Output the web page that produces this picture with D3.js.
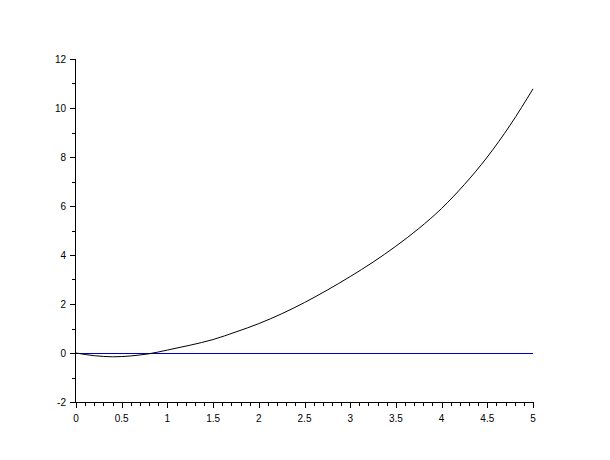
<!DOCTYPE html>
<html><head><meta charset="utf-8">
<script src="https://cdn.jsdelivr.net/npm/d3@7"></script>
<style>body{margin:0;background:#fff;} svg{display:block;} text{font-family:"Liberation Sans",Arial,sans-serif;font-size:10px;fill:#000;}</style>
</head><body>
<script>
const xValues = [0,0.1,0.2,0.3,0.4,0.5,0.6,0.7,0.8,0.9,1.0,1.25,1.5,1.75,2.0,2.25,2.5,2.75,3.0,3.25,3.5,3.75,4.0,4.25,4.5,4.75,5.0];
const yValues = [0,-0.06,-0.11,-0.14,-0.155,-0.145,-0.12,-0.08,-0.03,0.04,0.12,0.32,0.55,0.86,1.2,1.6,2.06,2.57,3.12,3.71,4.36,5.08,5.9,6.88,8.0,9.3,10.78];
const zeroLineX = [0,5];
const zeroLineY = [0,0];
const xTicks = [0,0.5,1,1.5,2,2.5,3,3.5,4,4.5,5];
const yTicks = [-2,0,2,4,6,8,10,12];

const W=610,H=460;
const svg=d3.select("body").append("svg").attr("width",W).attr("height",H);
const x=d3.scaleLinear().domain([0,5]).range([76,533]);
const y=d3.scaleLinear().domain([-2,12]).range([402,59]);

// x axis
const xMinor=d3.range(0,5.0001,0.1).map(v=>+v.toFixed(2));
const gx=svg.append("g");
gx.append("line").attr("x1",x(0)).attr("x2",x(5)).attr("y1",y(-2)+0.5).attr("y2",y(-2)+0.5).attr("stroke","#000");
gx.selectAll("line.mn").data(xMinor).enter().append("line")
  .attr("x1",d=>Math.round(x(d))+0.5).attr("x2",d=>Math.round(x(d))+0.5)
  .attr("y1",y(-2)).attr("y2",d=>y(-2)+(xTicks.some(t=>Math.abs(t-d)<1e-6)?6:4)).attr("stroke","#000");
gx.selectAll("text").data(xTicks).enter().append("text")
  .attr("x",d=>x(d)).attr("y",y(-2)+20).attr("text-anchor","middle").text(d=>d);

// y axis
const yMinor=d3.range(-2,12.001,1);
const gy=svg.append("g");
gy.append("line").attr("x1",x(0)-0.5).attr("x2",x(0)-0.5).attr("y1",y(12)).attr("y2",y(-2)+1).attr("stroke","#000");
gy.selectAll("line.mn").data(yMinor).enter().append("line")
  .attr("y1",d=>Math.round(y(d))+0.5).attr("y2",d=>Math.round(y(d))+0.5)
  .attr("x1",x(0)).attr("x2",d=>x(0)-(yTicks.includes(d)?6:4)).attr("stroke","#000");
gy.selectAll("text").data(yTicks).enter().append("text")
  .attr("x",x(0)-10).attr("y",d=>y(d)+3.5).attr("text-anchor","end").text(d=>d);

// zero line
svg.append("path").datum(zeroLineX.map((v,i)=>[v,zeroLineY[i]]))
  .attr("d",d3.line().x(d=>x(d[0])).y(d=>Math.round(y(d[1]))+0.5))
  .attr("fill","none").attr("stroke","#0000c8").attr("stroke-width",1);

// curve
svg.append("path").datum(xValues.map((v,i)=>[v,yValues[i]]))
  .attr("d",d3.line().x(d=>x(d[0])).y(d=>y(d[1])).curve(d3.curveMonotoneX))
  .attr("fill","none").attr("stroke","#000").attr("stroke-width",1);
</script>
</body></html>
